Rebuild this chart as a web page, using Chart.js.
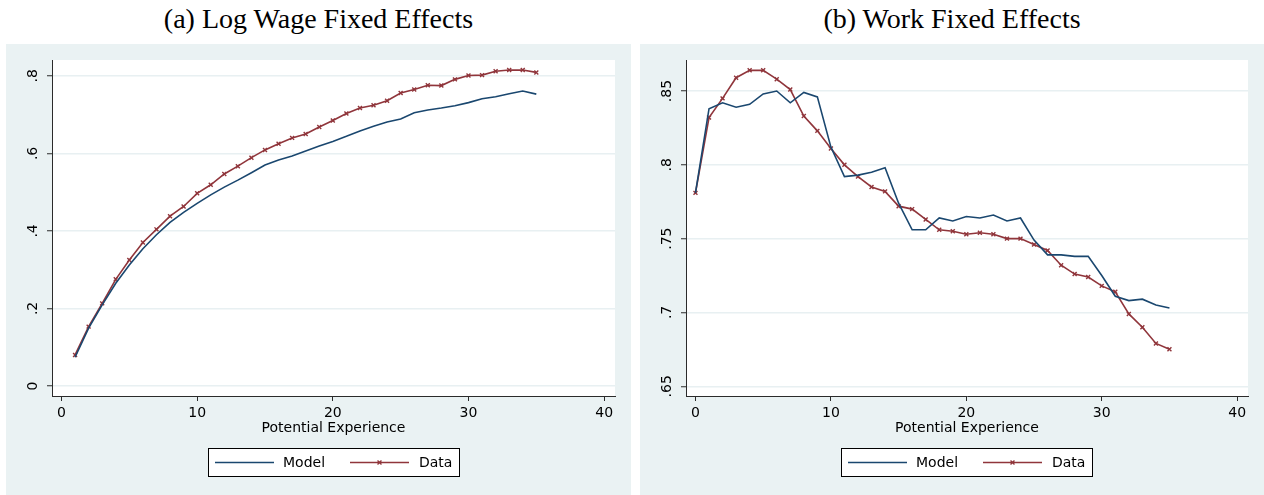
<!DOCTYPE html>
<html>
<head>
<meta charset="utf-8">
<script src="https://cdn.jsdelivr.net/npm/chart.js@4.4.1/dist/chart.umd.min.js"></script>
<style>
  body { margin: 0; background: #fff; width: 1264px; height: 495px; position: relative; overflow: hidden; }
  .title { position: absolute; top: 5px; font-family: "Liberation Serif", "DejaVu Serif", serif; font-size: 28px; line-height: 28px; color: #000; text-align: center; white-space: nowrap; }
  .panel { position: absolute; top: 44px; height: 451px; background: #eaf2f3; }
  canvas { display: block; }
</style>
</head>
<body>
<div class="title" style="left:6px;width:625px">(a) Log Wage Fixed Effects</div>
<div class="title" style="left:640px;width:624px">(b) Work Fixed Effects</div>
<div class="panel" style="left:6px;width:625px"><canvas id="wageChart" width="625" height="451"></canvas></div>
<div class="panel" style="left:640px;width:624px"><canvas id="workChart" width="624" height="451"></canvas></div>

<script>
// potential experience (years)
var wageExp = [1,2,3,4,5,6,7,8,9,10,11,12,13,14,15,16,17,18,19,20,21,22,23,24,25,26,27,28,29,30,31,32,33,34,35];
var workExp = [0,1,2,3,4,5,6,7,8,9,10,11,12,13,14,15,16,17,18,19,20,21,22,23,24,25,26,27,28,29,30,31,32,33,34,35];

// (a) log wage fixed effects
var wageModel = [0.074,0.149,0.209,0.265,0.312,0.354,0.390,0.422,0.448,0.471,0.493,0.513,0.531,0.550,0.570,0.583,0.593,0.606,0.619,0.631,0.644,0.658,0.670,0.681,0.689,0.705,0.712,0.717,0.723,0.731,0.741,0.746,0.754,0.761,0.753];
var wageData  = [0.080,0.153,0.213,0.275,0.325,0.370,0.404,0.438,0.463,0.497,0.519,0.547,0.567,0.589,0.609,0.625,0.640,0.650,0.668,0.685,0.703,0.717,0.724,0.736,0.756,0.765,0.776,0.775,0.791,0.801,0.802,0.812,0.815,0.815,0.809];

// (b) work fixed effects
var workModel = [0.781,0.838,0.842,0.839,0.841,0.848,0.850,0.842,0.849,0.846,0.812,0.792,0.793,0.795,0.798,0.774,0.756,0.756,0.764,0.762,0.765,0.764,0.766,0.762,0.764,0.749,0.739,0.739,0.738,0.738,0.725,0.711,0.708,0.709,0.705,0.703];
var workData  = [0.781,0.832,0.845,0.859,0.864,0.864,0.858,0.851,0.833,0.823,0.811,0.800,0.792,0.785,0.782,0.772,0.770,0.763,0.756,0.755,0.753,0.754,0.753,0.750,0.750,0.746,0.742,0.732,0.726,0.724,0.718,0.714,0.699,0.690,0.679,0.675];

// tick labels
var expTicks = [0, 10, 20, 30, 40];
var wageTicks = [0, 0.2, 0.4, 0.6, 0.8];
var workTicks = [0.65, 0.7, 0.75, 0.8, 0.85];

var navy = '#1a476f';
var maroon = '#90353b';
var axisColor = '#2b2b2b';
var gridColor = '#e8f0f2';
var sansFont = '"DejaVu Sans", sans-serif';

// stata style: .8 instead of 0.8
function stataNum(v) {
    return String(v).replace(/^0\./, '.');
}

function toPoints(xs, ys) {
    return xs.map(function(x, i) { return { x: x, y: ys[i] }; });
}

var stataLook = {
    id: 'stataLook',
    beforeDraw: function(chart) {
        var a = chart.chartArea;
        var ctx = chart.ctx;
        ctx.save();
        ctx.fillStyle = '#fff';
        ctx.fillRect(a.left, a.top, a.right - a.left, a.bottom - a.top);
        ctx.restore();
    },
    afterDraw: function(chart) {
        var ctx = chart.ctx;
        var a = chart.chartArea;
        var yScale = chart.scales.y;

        // vertical y tick labels
        ctx.save();
        ctx.font = '14px ' + sansFont;
        ctx.fillStyle = '#000';
        ctx.textAlign = 'center';
        ctx.textBaseline = 'middle';
        yScale.ticks.forEach(function(t) {
            var py = yScale.getPixelForValue(t.value);
            ctx.save();
            ctx.translate(a.left - 19, py);
            ctx.rotate(-Math.PI / 2);
            ctx.fillText(stataNum(t.value), 0, 0);
            ctx.restore();
        });
        ctx.restore();

        // boxed legend under the axis title
        var ds = chart.data.datasets;
        var bw = 252, bh = 29;
        var bx = Math.round((a.left + a.right) / 2 - bw / 2);
        var by = 404;
        var ly = by + 14.5;
        ctx.save();
        ctx.fillStyle = '#fff';
        ctx.fillRect(bx, by, bw, bh);
        ctx.strokeStyle = '#000';
        ctx.lineWidth = 1;
        ctx.strokeRect(bx + 0.5, by + 0.5, bw - 1, bh - 1);

        ctx.lineWidth = 1.6;
        ctx.strokeStyle = ds[0].borderColor;
        ctx.beginPath(); ctx.moveTo(bx + 7, ly); ctx.lineTo(bx + 66, ly); ctx.stroke();
        ctx.strokeStyle = ds[1].borderColor;
        ctx.beginPath(); ctx.moveTo(bx + 142, ly); ctx.lineTo(bx + 201, ly); ctx.stroke();
        ctx.lineWidth = 1.4;
        Chart.helpers.drawPoint(ctx, { pointStyle: 'crossRot', radius: 2.8, borderWidth: 1.4 }, bx + 171.5, ly);

        ctx.fillStyle = '#000';
        ctx.font = '14px ' + sansFont;
        ctx.textAlign = 'left';
        ctx.textBaseline = 'middle';
        ctx.fillText(ds[0].label, bx + 75, ly + 1);
        ctx.fillText(ds[1].label, bx + 211, ly + 1);
        ctx.restore();
    }
};

function makeChart(id, xs, model, data, yMin, yMax, yTicks) {
    var ctx = document.getElementById(id).getContext('2d');
    return new Chart(ctx, {
        type: 'line',
        data: {
            datasets: [{
                label: 'Model',
                data: toPoints(xs, model),
                borderColor: navy,
                borderWidth: 1.6,
                pointRadius: 0,
                tension: 0
            },
            {
                label: 'Data',
                data: toPoints(xs, data),
                borderColor: maroon,
                borderWidth: 1.6,
                pointStyle: 'crossRot',
                pointRadius: 2.8,
                pointBorderWidth: 1.4,
                pointBorderColor: maroon,
                pointBackgroundColor: maroon,
                tension: 0
            }]
        },
        options: {
            responsive: false,
            animation: false,
            events: [],
            layout: { padding: { top: 16, right: 16, left: 0, bottom: 58 } },
            plugins: { legend: { display: false }, tooltip: { enabled: false } },
            scales: {
                x: {
                    type: 'linear',
                    min: -0.7,
                    max: 40.8,
                    afterBuildTicks: function(s) { s.ticks = expTicks.map(function(v) { return { value: v }; }); },
                    afterFit: function(s) { s.height = 41; },
                    grid: { drawOnChartArea: false, drawTicks: true, tickLength: 5, tickColor: axisColor, tickWidth: 1 },
                    border: { color: axisColor, width: 1 },
                    ticks: { color: '#000', font: { family: sansFont, size: 14 }, padding: 4, maxRotation: 0, autoSkip: false },
                    title: { display: true, text: 'Potential Experience', color: '#000', font: { family: sansFont, size: 14 }, padding: 0 }
                },
                y: {
                    type: 'linear',
                    min: yMin,
                    max: yMax,
                    afterBuildTicks: function(s) { s.ticks = yTicks.map(function(v) { return { value: v }; }); },
                    afterFit: function(s) { s.width = 46; },
                    grid: { color: gridColor, lineWidth: 1.5, drawTicks: true, tickLength: 5, tickColor: axisColor, tickWidth: 1 },
                    border: { color: axisColor, width: 1 },
                    ticks: { display: false }
                }
            }
        },
        plugins: [stataLook]
    });
}

var wageChart = makeChart('wageChart', wageExp, wageModel, wageData, -0.026, 0.841, wageTicks);
var workChart = makeChart('workChart', workExp, workModel, workData, 0.6434, 0.871, workTicks);
</script>
</body>
</html>
